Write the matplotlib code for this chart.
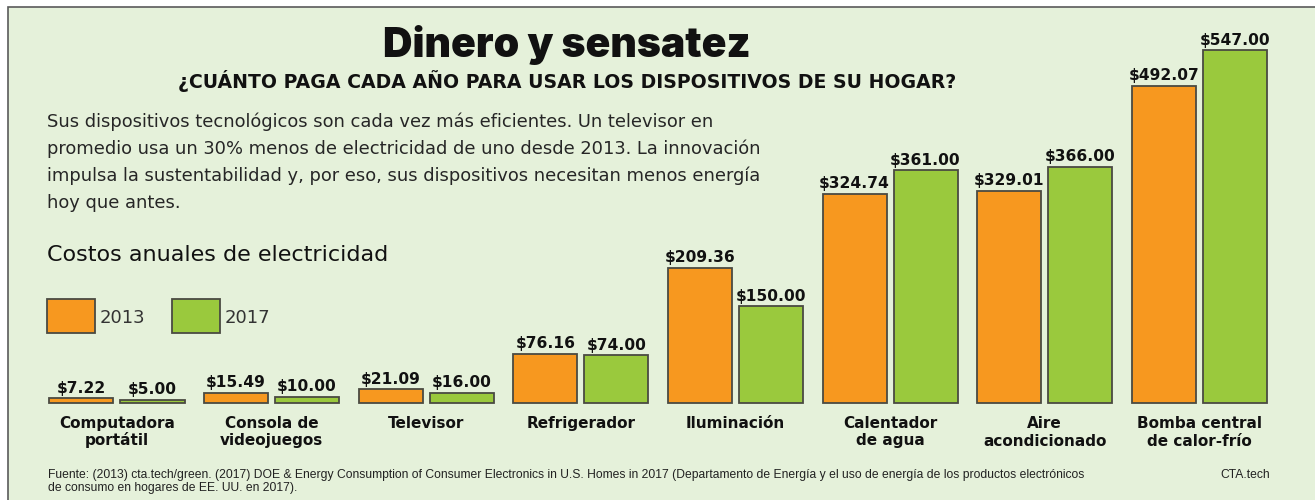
import matplotlib
matplotlib.use("Agg")
import matplotlib.pyplot as plt
from matplotlib.patches import Rectangle

# ---------------- data ----------------
categories = ["Computadora\nportátil", "Consola de\nvideojuegos", "Televisor",
              "Refrigerador", "Iluminación", "Calentador\nde agua",
              "Aire\nacondicionado", "Bomba central\nde calor-frío"]
costs_2013 = [7.22, 15.49, 21.09, 76.16, 209.36, 324.74, 329.01, 492.07]
costs_2017 = [5.00, 10.00, 16.00, 74.00, 150.00, 361.00, 366.00, 547.00]
series_labels = ["2013", "2017"]

title = "Dinero y sensatez"
subtitle = "¿CUÁNTO PAGA CADA AÑO PARA USAR LOS DISPOSITIVOS DE SU HOGAR?"
body_lines = [
    "Sus dispositivos tecnológicos son cada vez más eficientes. Un televisor en",
    "promedio usa un 30% menos de electricidad de uno desde 2013. La innovación",
    "impulsa la sustentabilidad y, por eso, sus dispositivos necesitan menos energía",
    "hoy que antes.",
]
chart_title = "Costos anuales de electricidad"
source_lines = [
    "Fuente: (2013) cta.tech/green. (2017) DOE & Energy Consumption of Consumer Electronics in U.S. Homes in 2017 (Departamento de Energía y el uso de energía de los productos electrónicos",
    "de consumo en hogares de EE. UU. en 2017).",
]
credit = "CTA.tech"

# ---------------- style ----------------
W, H = 1315, 500
BG = "#E5F1DA"
ORANGE = "#F7981F"
GREEN = "#9AC93D"
EDGE = "#4A4A42"
TXT = "#111111"
BODY = "#262626"
FONT_T = "Inter"
FONT = "DejaVu Sans"

fig = plt.figure(figsize=(W / 100, H / 100), dpi=100)
fig.patch.set_facecolor("white")

def fx(x):
    return x / W

def fy(y):
    return 1 - y / H

# panel background with border
fig.patches.append(Rectangle((fx(8), fy(H + 5)), fx(W + 10) - fx(8), fy(7) - fy(H + 5),
                             transform=fig.transFigure, facecolor=BG,
                             edgecolor="#5a5a5a", linewidth=1.2, zorder=-5))

# axes mapping: group i centred at pixel 117 + 154.6 i ; baseline at y=403, 0.645 px per $
spacing = 154.6
c0 = 117
scale = 0.645
base = 403
ax = fig.add_axes([0, 0, 1, 1])
ax.set_facecolor("none")
ax.set_xlim(-c0 / spacing, (W - c0) / spacing)
ax.set_ylim(-(H - base) / scale, base / scale)
ax.axis("off")

bw = 64 / spacing
off = 35.5 / spacing
for i, (a, b) in enumerate(zip(costs_2013, costs_2017)):
    for x, v, col in ((i - off, a, ORANGE), (i + off, b, GREEN)):
        ax.bar(x, v, width=bw, color=col, edgecolor=EDGE, linewidth=1.3, zorder=3)
        ax.annotate(f"${v:,.2f}", (x, v), xytext=(0, 4), textcoords="offset points",
                    ha="center", va="baseline", fontsize=11.2, fontweight="bold",
                    family=FONT, color=TXT, zorder=4)
    for k, line in enumerate(categories[i].split("\n")):
        ax.annotate(line, (i, 0), xytext=(0, -(25 + 17.5 * k) * 0.72),
                    textcoords="offset points", ha="center", va="baseline",
                    fontsize=11, fontweight="bold", family=FONT, color=TXT)

# titles
fig.text(fx(567), fy(57), title, ha="center", va="baseline", fontsize=29.5,
         fontweight="black", family=FONT_T, color=TXT)
fig.text(fx(567), fy(88), subtitle, ha="center", va="baseline", fontsize=13.6,
         fontweight="bold", family=FONT, color=TXT)
for k, line in enumerate(body_lines):
    fig.text(fx(47), fy(127 + 27 * k), line, ha="left", va="baseline", fontsize=12.9,
             family=FONT, color=BODY)
fig.text(fx(47), fy(261), chart_title, ha="left", va="baseline", fontsize=16,
         family=FONT, color=TXT)

# legend
for (x0, col, lab) in ((47, ORANGE, series_labels[0]), (172, GREEN, series_labels[1])):
    fig.patches.append(Rectangle((fx(x0), fy(333)), fx(48), fy(0) - fy(34),
                                 transform=fig.transFigure, facecolor=col,
                                 edgecolor=EDGE, linewidth=1.3, zorder=2))
    fig.text(fx(x0 + 53), fy(323), lab, ha="left", va="baseline", fontsize=13,
             family=FONT, color="#333333")

# footer
for k, line in enumerate(source_lines):
    fig.text(fx(48), fy(478 + 13 * k), line, ha="left", va="baseline", fontsize=8.7,
             family="Liberation Sans", color="#222222")
fig.text(fx(1270), fy(478), credit, ha="right", va="baseline", fontsize=8.7,
         family="Liberation Sans", color="#222222")

fig.savefig("out.png", dpi=100, facecolor=fig.get_facecolor())
